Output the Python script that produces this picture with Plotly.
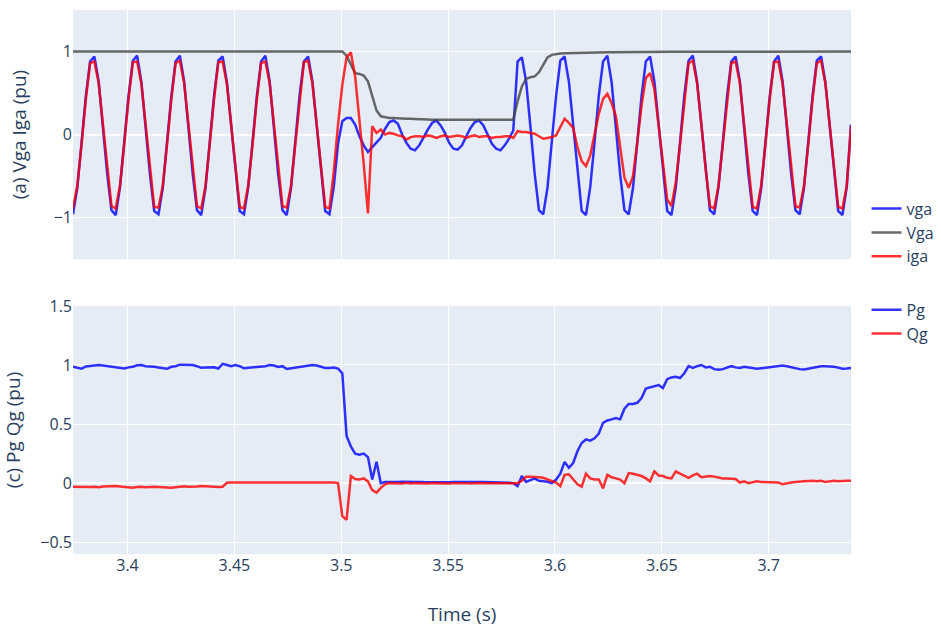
import plotly.graph_objects as go

# Sample times (2 ms step)
T0 = 3.3745
DT = 0.002
N_SAMPLES = 183
time_s = [round(T0 + DT * k, 4) for k in range(N_SAMPLES)]

# Phase-a grid voltage, instantaneous (pu)
vga = [
    -0.96, -0.64, -0.10, 0.46, 0.88, 0.94, 0.64, 0.10, -0.47, -0.91,
    -0.97, -0.63, -0.09, 0.47, 0.89, 0.95, 0.63, 0.09, -0.48, -0.92,
    -0.96, -0.64, -0.10, 0.46, 0.88, 0.95, 0.64, 0.10, -0.47, -0.91,
    -0.97, -0.64, -0.10, 0.47, 0.89, 0.94, 0.63, 0.10, -0.47, -0.92,
    -0.96, -0.63, -0.09, 0.46, 0.88, 0.95, 0.64, 0.09, -0.48, -0.91,
    -0.97, -0.64, -0.10, 0.47, 0.88, 0.94, 0.64, 0.10, -0.47, -0.92,
    -0.96, -0.63, -0.11, 0.16, 0.20, 0.20, 0.12, -0.02, -0.13, -0.21,
    -0.15, -0.09, -0.04, 0.07, 0.15, 0.17, 0.13, 0.00, -0.10, -0.17,
    -0.19, -0.13, -0.03, 0.06, 0.14, 0.17, 0.11, 0.02, -0.10, -0.17,
    -0.18, -0.13, -0.02, 0.08, 0.15, 0.17, 0.11, 0.00, -0.11, -0.17,
    -0.19, -0.13, -0.05, 0.05, 0.88, 0.93, 0.64, 0.10, -0.47, -0.91,
    -0.96, -0.64, -0.10, 0.46, 0.89, 0.94, 0.64, 0.10, -0.47, -0.92,
    -0.97, -0.63, -0.10, 0.47, 0.88, 0.95, 0.63, 0.09, -0.48, -0.91,
    -0.96, -0.64, -0.09, 0.46, 0.88, 0.94, 0.64, 0.10, -0.47, -0.92,
    -0.97, -0.64, -0.10, 0.47, 0.89, 0.95, 0.63, 0.10, -0.47, -0.91,
    -0.96, -0.63, -0.10, 0.46, 0.88, 0.94, 0.64, 0.09, -0.48, -0.92,
    -0.97, -0.64, -0.09, 0.47, 0.88, 0.95, 0.64, 0.10, -0.47, -0.91,
    -0.96, -0.64, -0.10, 0.46, 0.89, 0.94, 0.63, 0.10, -0.47, -0.92,
    -0.97, -0.63, 0.12,
]

# Phase-a grid voltage magnitude (pu)
Vga = [
    1.00, 1.00, 1.00, 1.00, 1.00, 1.00, 1.00, 1.00, 1.00, 1.00,
    1.00, 1.00, 1.00, 1.00, 1.00, 1.00, 1.00, 1.00, 1.00, 1.00,
    1.00, 1.00, 1.00, 1.00, 1.00, 1.00, 1.00, 1.00, 1.00, 1.00,
    1.00, 1.00, 1.00, 1.00, 1.00, 1.00, 1.00, 1.00, 1.00, 1.00,
    1.00, 1.00, 1.00, 1.00, 1.00, 1.00, 1.00, 1.00, 1.00, 1.00,
    1.00, 1.00, 1.00, 1.00, 1.00, 1.00, 1.00, 1.00, 1.00, 1.00,
    1.00, 1.00, 1.00, 1.00, 0.95, 0.85, 0.74, 0.73, 0.71, 0.64,
    0.46, 0.29, 0.22, 0.21, 0.20, 0.20, 0.195, 0.19, 0.19, 0.19,
    0.185, 0.185, 0.185, 0.18, 0.18, 0.18, 0.18, 0.18, 0.18, 0.178,
    0.178, 0.178, 0.178, 0.176, 0.176, 0.176, 0.176, 0.176, 0.176, 0.176,
    0.176, 0.176, 0.176, 0.18, 0.40, 0.58, 0.67, 0.69, 0.70, 0.75,
    0.84, 0.93, 0.96, 0.97, 0.975, 0.978, 0.98, 0.98, 0.982, 0.984,
    0.985, 0.986, 0.987, 0.988, 0.989, 0.99, 0.99, 0.991, 0.992, 0.992,
    0.993, 0.993, 0.994, 0.994, 0.995, 0.995, 0.995, 0.996, 0.996, 0.996,
    0.997, 0.997, 0.997, 0.997, 0.998, 0.998, 0.998, 0.998, 0.998, 0.999,
    0.999, 0.999, 0.999, 0.999, 0.999, 1.00, 1.00, 1.00, 1.00, 1.00,
    1.00, 1.00, 1.00, 1.00, 1.00, 1.00, 1.00, 1.00, 1.00, 1.00,
    1.00, 1.00, 1.00, 1.00, 1.00, 1.00, 1.00, 1.00, 1.00, 1.00,
    1.00, 1.00, 1.00,
]

# Phase-a grid current (pu)
iga = [
    -0.89, -0.62, -0.12, 0.42, 0.86, 0.88, 0.62, 0.12, -0.42, -0.86,
    -0.89, -0.61, -0.11, 0.43, 0.87, 0.88, 0.61, 0.11, -0.43, -0.87,
    -0.88, -0.62, -0.12, 0.42, 0.86, 0.89, 0.62, 0.12, -0.42, -0.86,
    -0.89, -0.62, -0.11, 0.43, 0.87, 0.88, 0.61, 0.12, -0.42, -0.87,
    -0.89, -0.61, -0.12, 0.42, 0.86, 0.88, 0.62, 0.11, -0.43, -0.86,
    -0.88, -0.62, -0.12, 0.42, 0.87, 0.89, 0.62, 0.12, -0.42, -0.87,
    -0.89, -0.45, 0.12, 0.60, 0.93, 0.99, 0.70, 0.20, -0.35, -0.95,
    0.10, 0.02, 0.06, 0.00, 0.02, 0.01, -0.01, -0.02, -0.06, -0.03,
    -0.02, -0.02, -0.03, -0.01, -0.02, -0.04, -0.02, -0.01, -0.03, -0.02,
    -0.01, -0.02, -0.04, -0.02, -0.01, -0.03, -0.02, -0.02, -0.04, -0.03,
    -0.03, -0.02, -0.02, -0.04, 0.04, 0.03, 0.03, 0.02, 0.01, -0.02,
    -0.05, -0.04, -0.03, -0.01, 0.10, 0.19, 0.14, 0.08, -0.15, -0.32,
    -0.38, -0.25, 0.00, 0.25, 0.43, 0.49, 0.38, 0.22, -0.15, -0.52,
    -0.64, -0.50, -0.10, 0.35, 0.68, 0.74, 0.55, 0.10, -0.40, -0.78,
    -0.86, -0.58, -0.12, 0.40, 0.86, 0.89, 0.62, 0.12, -0.42, -0.86,
    -0.89, -0.62, -0.12, 0.42, 0.86, 0.88, 0.62, 0.12, -0.42, -0.87,
    -0.89, -0.61, -0.11, 0.43, 0.87, 0.88, 0.61, 0.11, -0.43, -0.86,
    -0.88, -0.62, -0.12, 0.42, 0.86, 0.89, 0.62, 0.12, -0.42, -0.87,
    -0.89, -0.62, 0.10,
]

# Active power (pu)
Pg = [
    0.985, 0.975, 0.968, 0.988, 0.993, 0.997, 1.000, 0.995, 0.990, 0.985,
    0.975, 0.972, 0.970, 0.980, 0.985, 0.997, 1.000, 0.990, 0.990, 0.985,
    0.978, 0.970, 0.968, 0.985, 0.990, 1.003, 1.004, 1.000, 1.000, 0.990,
    0.976, 0.978, 0.982, 0.980, 0.970, 1.010, 1.000, 0.990, 1.000, 0.990,
    0.972, 0.975, 0.983, 0.985, 0.988, 0.990, 1.000, 0.995, 0.983, 0.990,
    0.966, 0.972, 0.975, 0.985, 0.990, 0.995, 1.000, 0.995, 0.985, 0.975,
    0.975, 0.978, 0.970, 0.930, 0.400, 0.310, 0.250, 0.240, 0.250, 0.220,
    0.030, 0.180, 0.000, 0.010, 0.010, 0.008, 0.010, 0.012, 0.010, 0.008,
    0.010, 0.010, 0.009, 0.008, 0.010, 0.012, 0.010, 0.009, 0.008, 0.010,
    0.011, 0.010, 0.009, 0.010, 0.012, 0.010, 0.009, 0.008, 0.010, 0.011,
    0.010, 0.006, 0.004, 0.000, -0.025, 0.060, 0.010, 0.025, 0.040, 0.020,
    0.015, 0.012, 0.000, 0.030, 0.080, 0.180, 0.130, 0.170, 0.270, 0.340,
    0.370, 0.360, 0.380, 0.420, 0.510, 0.530, 0.540, 0.550, 0.540, 0.630,
    0.670, 0.670, 0.680, 0.720, 0.800, 0.810, 0.825, 0.830, 0.805, 0.880,
    0.895, 0.900, 0.890, 0.930, 0.990, 0.975, 0.990, 1.000, 0.980, 0.985,
    0.965, 0.960, 0.965, 0.975, 0.990, 0.980, 0.975, 0.985, 0.978, 0.975,
    0.968, 0.972, 0.976, 0.978, 0.983, 0.990, 0.995, 0.990, 0.980, 0.975,
    0.965, 0.962, 0.970, 0.978, 0.985, 0.990, 0.990, 0.990, 0.985, 0.978,
    0.968, 0.970, 0.975,
]

# Reactive power (pu)
Qg = [
    -0.030, -0.032, -0.035, -0.035, -0.033, -0.030, -0.035, -0.028, -0.025, -0.027,
    -0.025, -0.028, -0.030, -0.035, -0.040, -0.033, -0.030, -0.035, -0.030, -0.030,
    -0.033, -0.035, -0.038, -0.040, -0.035, -0.030, -0.026, -0.030, -0.032, -0.028,
    -0.025, -0.028, -0.030, -0.030, -0.032, -0.030, 0.003, 0.005, 0.005, 0.004,
    0.003, 0.005, 0.006, 0.004, 0.002, 0.004, 0.005, 0.006, 0.003, 0.004,
    0.005, 0.007, 0.004, 0.003, 0.005, 0.006, 0.005, 0.004, 0.006, 0.005,
    0.004, 0.005, 0.000, -0.280, -0.310, 0.060, 0.035, 0.030, 0.040, 0.015,
    -0.060, -0.080, -0.040, -0.010, 0.000, -0.002, 0.000, -0.003, 0.002, -0.004,
    0.000, -0.002, 0.001, -0.003, 0.000, -0.002, 0.001, -0.001, -0.003, 0.000,
    0.001, -0.002, 0.000, -0.003, 0.001, 0.000, -0.002, 0.001, -0.001, 0.000,
    -0.002, 0.000, 0.000, 0.000, 0.000, 0.020, 0.055, 0.055, 0.055, 0.050,
    0.045, 0.030, 0.015, 0.005, -0.025, 0.070, 0.075, 0.030, -0.010, -0.030,
    0.080, 0.040, 0.030, 0.030, -0.045, 0.070, 0.050, 0.040, 0.030, 0.000,
    0.085, 0.080, 0.070, 0.060, 0.040, 0.015, 0.100, 0.065, 0.060, 0.045,
    0.040, 0.100, 0.080, 0.065, 0.045, 0.065, 0.080, 0.050, 0.055, 0.060,
    0.055, 0.045, 0.040, 0.040, 0.040, 0.035, 0.005, 0.015, 0.000, 0.005,
    0.015, 0.010, 0.010, 0.010, 0.008, 0.005, -0.010, 0.000, 0.005, 0.010,
    0.015, 0.015, 0.018, 0.020, 0.015, 0.020, 0.010, 0.015, 0.020, 0.015,
    0.020, 0.020, 0.020,
]

BLUE = "blue"
RED = "red"
GRAY = "#444444"
OPA = 0.8
LW = 2.5

fig = go.Figure()

# Upper panel: voltage and current waveforms
fig.add_trace(go.Scatter(x=time_s, y=vga, name="vga", mode="lines",
                         line=dict(color=BLUE, width=LW), opacity=OPA,
                         xaxis="x", yaxis="y", legend="legend"))
fig.add_trace(go.Scatter(x=time_s, y=Vga, name="Vga", mode="lines",
                         line=dict(color=GRAY, width=LW), opacity=OPA,
                         xaxis="x", yaxis="y", legend="legend"))
fig.add_trace(go.Scatter(x=time_s, y=iga, name="iga", mode="lines",
                         line=dict(color=RED, width=LW), opacity=OPA,
                         xaxis="x", yaxis="y", legend="legend"))

# Lower panel: active and reactive power
fig.add_trace(go.Scatter(x=time_s, y=Pg, name="Pg", mode="lines",
                         line=dict(color=BLUE, width=LW), opacity=OPA,
                         xaxis="x2", yaxis="y2", legend="legend2"))
fig.add_trace(go.Scatter(x=time_s, y=Qg, name="Qg", mode="lines",
                         line=dict(color=RED, width=LW), opacity=OPA,
                         xaxis="x2", yaxis="y2", legend="legend2"))

fig.update_layout(
    template="plotly",
    width=941,
    height=628,
    font=dict(size=16),
    margin=dict(l=73, r=90, t=10, b=74, autoexpand=False),
    xaxis=dict(domain=[0, 1], anchor="y", matches="x2", showticklabels=False,
               automargin=False),
    yaxis=dict(domain=[0.542, 1], anchor="x", range=[-1.5, 1.5], dtick=1,
               automargin=False,
               title=dict(text="(a) Vga Iga (pu)", standoff=22)),
    xaxis2=dict(domain=[0, 1], anchor="y2", dtick=0.05, automargin=False,
                title=dict(text="Time (s)", standoff=32)),
    yaxis2=dict(domain=[0, 0.456], anchor="x2", range=[-0.6, 1.5], dtick=0.5,
                automargin=False,
                title=dict(text="(c) Pg Qg (pu)", standoff=22)),
    legend=dict(x=1.02, xanchor="left", y=0.666, yanchor="top"),
    legend2=dict(x=1.02, xanchor="left", y=0.48, yanchor="top"),
)

fig.write_html("out.html")
